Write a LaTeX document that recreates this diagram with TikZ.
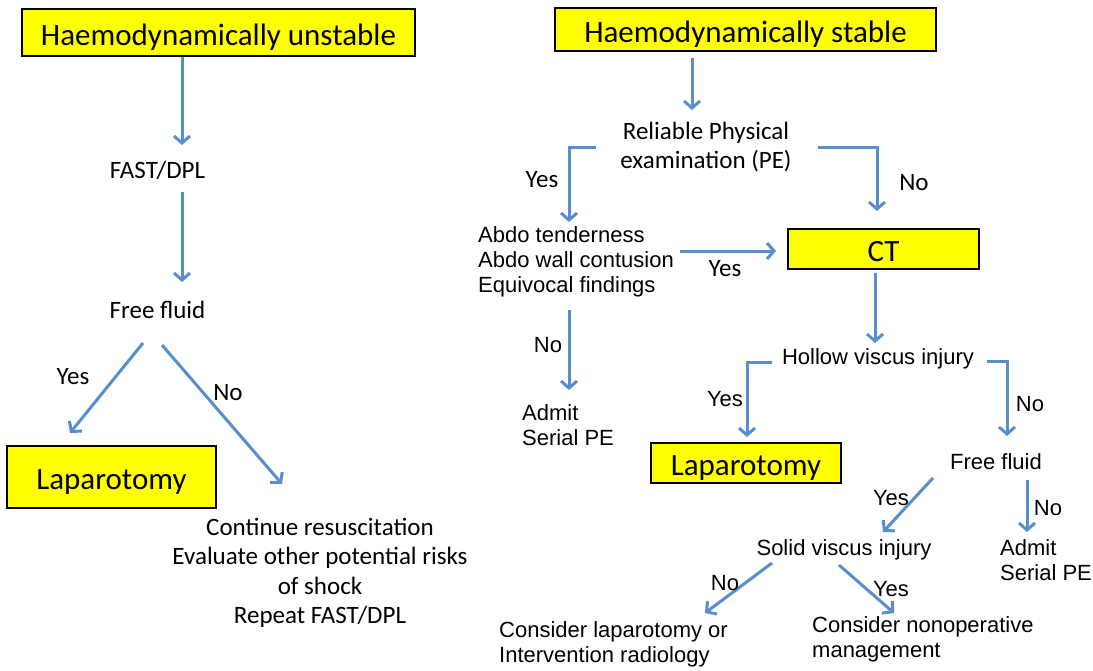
\documentclass[tikz,border=0pt]{standalone}
\usepackage{fontspec}
\newfontfamily\calibri{Carlito}
\newfontfamily\arial{Liberation Sans}
\usetikzlibrary{arrows.meta}

\begin{document}
\begin{tikzpicture}[x=1pt,y=-1pt,
% Define box and arrow colours
every node/.style={inner sep=0pt},
hbox/.style={draw=black, line width=2pt, fill=boxyellow, text height=25pt, text depth=0pt, font=\calibri\fontsize{31}{37}\selectfont},
ctext/.style={font=\calibri\fontsize{25}{29.5}\selectfont, align=center},
atext/.style={font=\arial\fontsize{22}{25}\selectfont, align=left},
arr/.style={draw=arrowblue, line width=3pt, -{Straight Barb[length=7pt,width=16pt]}}]

\definecolor{boxyellow}{RGB}{255,255,0}
\definecolor{arrowblue}{RGB}{88,142,204}

\useasboundingbox (0,0) rectangle (1093,670);

% unstable branch
\node [hbox, minimum width=393pt, minimum height=47pt] (unstable) at (218.5,32.5) {Haemodynamically unstable};
\node [ctext] (fast) at (157.5,170) {FAST/DPL};
\node [ctext] (fluidL) at (157.5,310) {Free fluid};
\node [hbox, minimum width=209pt, minimum height=62pt] (lapL) at (111.5,477) {Laparotomy};
\node [ctext] (resus) at (320,573) {Continue resuscitation\\Evaluate other potential risks\\of shock\\Repeat FAST/DPL};

\coordinate (u1) at (182,145);
\coordinate (u2) at (182,192);
\coordinate (u3) at (182,282);
\draw [arr] (unstable.south -| u1) -- (u1);
\draw [arr] (u2) -- (u3);
\draw [arr] (143,343) -- (70,433);
\draw [arr] (162,345) -- (282,484);
\node [ctext] at (73,377) {Yes};
\node [ctext] at (228,393) {No};

% stable branch
\node [hbox, minimum width=381pt, minimum height=43pt] (stable) at (745.5,29.5) {Haemodynamically stable};
\node [ctext] (pe) at (706,147) {Reliable Physical\\examination (PE)};
\node [atext, anchor=west] (abdo) at (478,262) {Abdo tenderness\\Abdo wall contusion\\Equivocal findings};
\node [hbox, minimum width=191pt, minimum height=40pt] (ct) at (883.5,249) {CT};
\node [atext, anchor=west] (admitL) at (522,425.5) {Admit\\Serial PE};
\node [atext] (hollow) at (878,359) {Hollow viscus injury};
\node [hbox, minimum width=190pt, minimum height=40pt] (lapR) at (746,463) {Laparotomy};
\node [atext] (fluidR) at (996,462) {Free fluid};
\node [atext] (solid) at (844,550) {Solid viscus injury};
\node [atext, anchor=west] (admitR) at (1000,560.5) {Admit\\Serial PE};
\node [atext, anchor=west] (consL) at (499,644.5) {Consider laparotomy or\\Intervention radiology};
\node [atext, anchor=west] (consR) at (812,639.5) {Consider nonoperative\\management};

\coordinate (s1) at (692,110);
\draw [arr] (stable.south -| s1) ++(0,6) -- (s1);
\draw [arr] (596,147) -| (569,222);
\draw [arr] (818,147) -| (877,211);
\draw [arr] (680,251) -- (776,251);
\draw [arr] (875,273) -- (875,343);
\draw [arr] (569,310) -- (569,390);
\draw [arr] (772,362) -| (747,437);
\draw [arr] (987,361) -| (1007,436);
\draw [arr] (933,478) -- (883,532);
\draw [arr] (1027,480) -- (1027,532);
\draw [arr] (772,563) -- (705,613);
\draw [arr] (839,565) -- (894,613);

\node [ctext] at (542,180) {Yes};
\node [ctext] at (914,183) {No};
\node [ctext] at (725,269) {Yes};
\node [atext] at (548,345) {No};
\node [atext] at (725,399) {Yes};
\node [atext] at (1030,404) {No};
\node [atext] at (891,498) {Yes};
\node [atext] at (1048,508) {No};
\node [atext] at (725,583) {No};
\node [atext] at (891,589) {Yes};
\end{tikzpicture}
\end{document}
